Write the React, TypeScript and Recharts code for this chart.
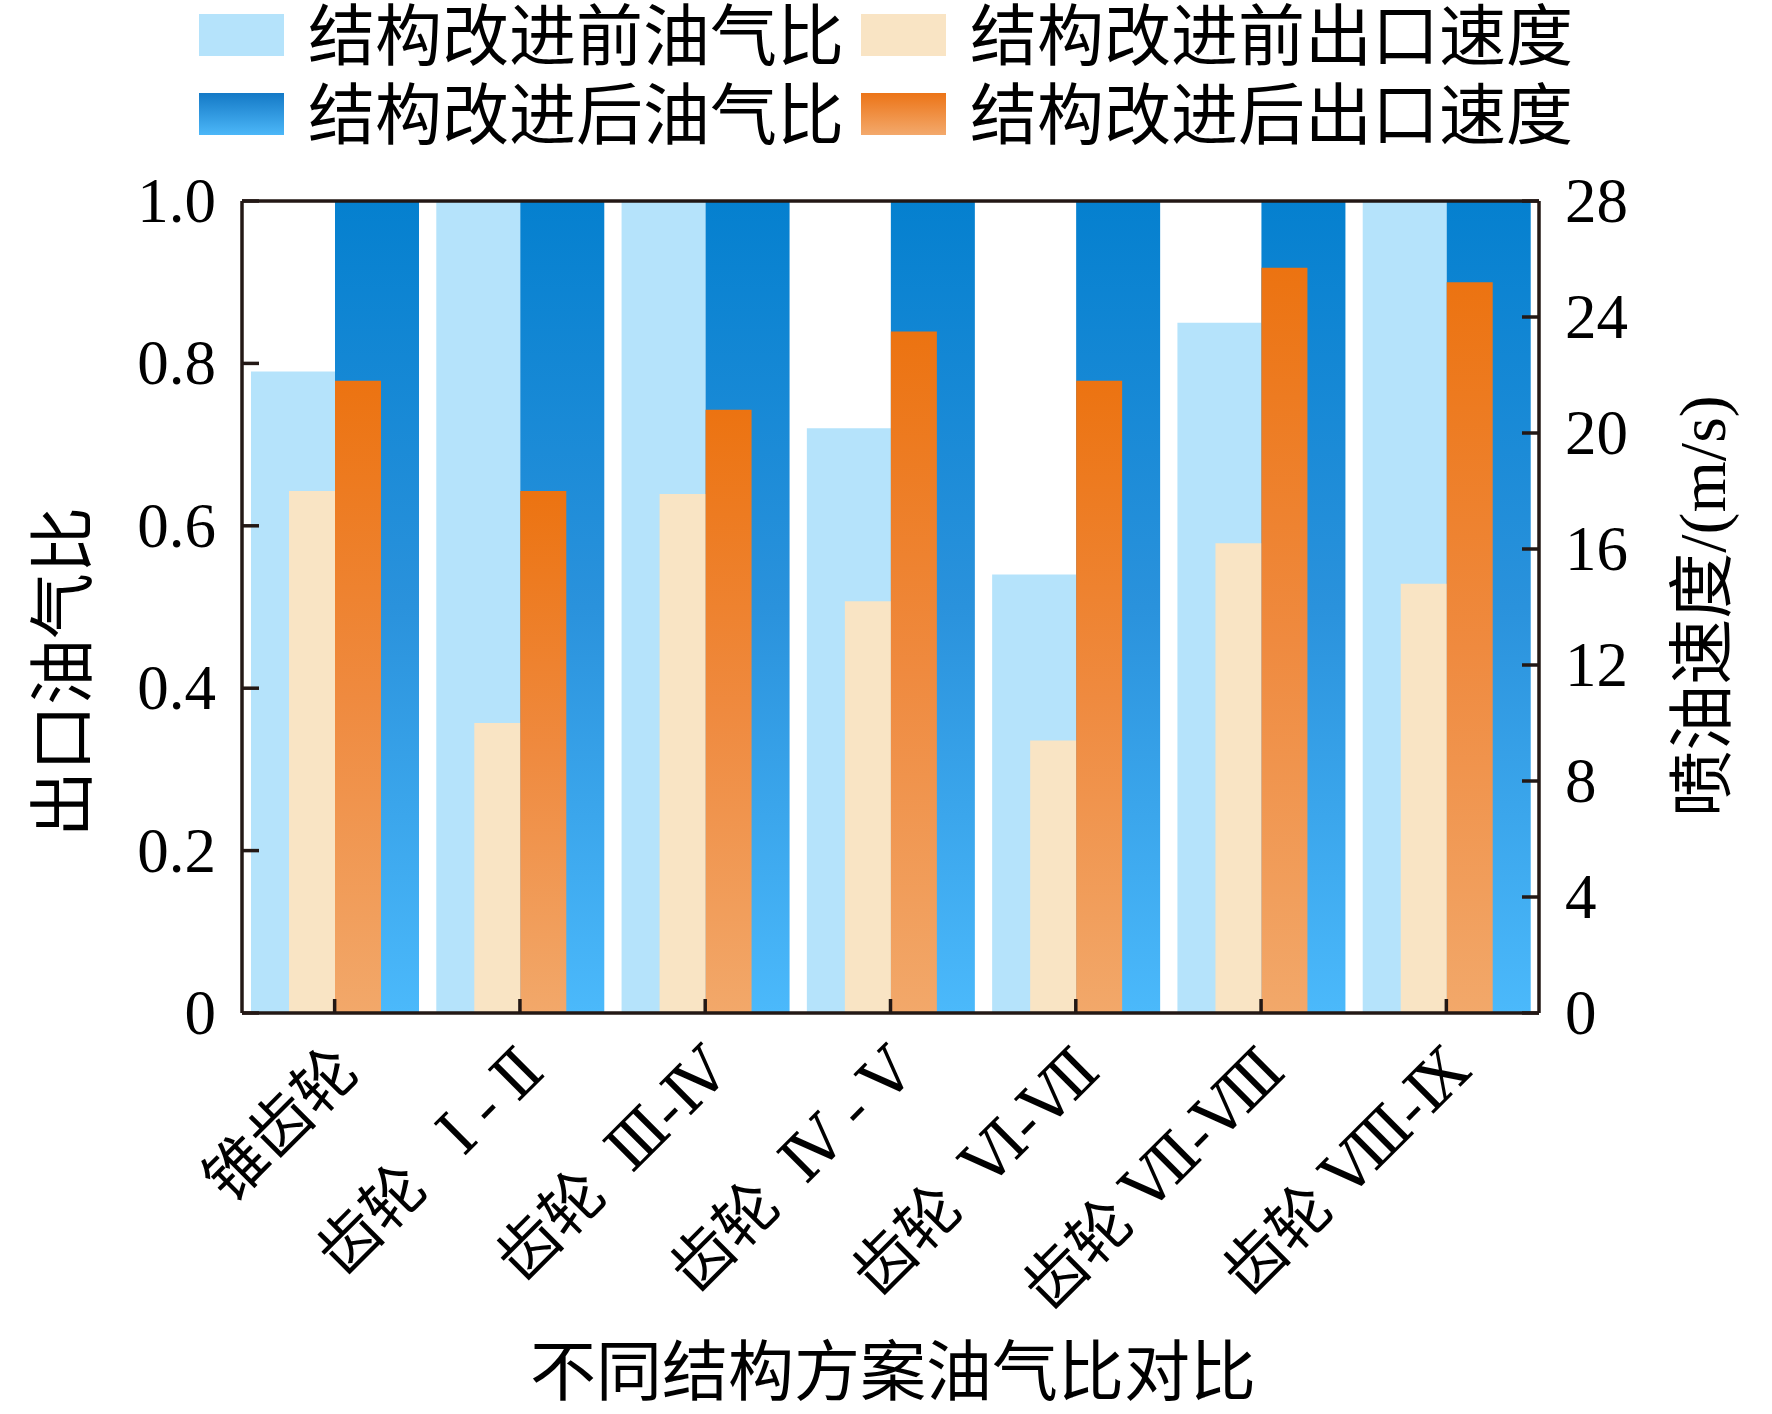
import React from 'react';
import { BarChart, Bar, XAxis, YAxis } from 'recharts';

// ---------- data ----------
const categories = ['锥齿轮', '齿轮   Ⅰ - Ⅱ', '齿轮  Ⅲ-Ⅳ', '齿轮  Ⅳ - Ⅴ', '齿轮  Ⅵ-Ⅶ', '齿轮 Ⅶ-Ⅷ', '齿轮 Ⅷ-Ⅸ'];
const ratioBefore = [0.79, 1.0, 1.0, 0.72, 0.54, 0.85, 1.0];
const ratioAfter = [1.0, 1.0, 1.0, 1.0, 1.0, 1.0, 1.0];
const speedBefore = [18.0, 10.0, 17.9, 14.2, 9.4, 16.2, 14.8];
const speedAfter = [21.8, 18.0, 20.8, 23.5, 21.8, 25.7, 25.2];
const leftTicks = [0, 0.2, 0.4, 0.6, 0.8, 1.0];
const rightTicks = [0, 4, 8, 12, 16, 20, 24, 28];
const legendLabels = ['结构改进前油气比', '结构改进前出口速度', '结构改进后油气比', '结构改进后出口速度'];
const xTitle = '不同结构方案油气比对比';
const yLeftTitle = '出口油气比';
const yRightTitle = '喷油速度/(m/s)';

const data = categories.map((name, i) => ({
  name,
  ratioBefore: ratioBefore[i],
  ratioAfter: ratioAfter[i],
  speedBefore: speedBefore[i],
  speedAfter: speedAfter[i],
}));

// ---------- styles ----------
const FONT = "'Liberation Serif', 'DejaVu Serif', 'Noto Sans CJK SC', serif";
const AXIS = '#231815';
const AXW = 3.5;
const LIGHT_BLUE = '#b5e3fb';
const BEIGE = '#f9e4c4';

const LeftTick = (props: any) => {
  const { x, y, payload } = props;
  const v = payload.value;
  const label = v === 0 ? '0' : v.toFixed(1);
  return (
    <g>
      <line x1={x} y1={y} x2={x + 17} y2={y} stroke={AXIS} strokeWidth={AXW} />
      <text x={x - 26} y={y} textAnchor="end" dominantBaseline="central" fontSize={63} fontFamily={FONT} fill="#000">
        {label}
      </text>
    </g>
  );
};

const RightTick = (props: any) => {
  const { x, y, payload } = props;
  return (
    <g>
      <line x1={x} y1={y} x2={x - 17} y2={y} stroke={AXIS} strokeWidth={AXW} />
      <text x={x + 26} y={y} textAnchor="start" dominantBaseline="central" fontSize={63} fontFamily={FONT} fill="#000">
        {String(payload.value)}
      </text>
    </g>
  );
};

const BottomTick = (props: any) => {
  const { x, y, payload } = props;
  return (
    <g>
      <line x1={x} y1={y} x2={x} y2={y - 14} stroke={AXIS} strokeWidth={AXW} />
      <text
        transform={`translate(${x + 27},${y + 61}) rotate(-45)`}
        textAnchor="end"
        fontSize={62}
        fontFamily={FONT}
        fill="#000"
        style={{ whiteSpace: 'pre' }}
      >
        {payload.value}
      </text>
    </g>
  );
};

const Overlay = () => (
  <g>
    {/* legend */}
    <rect x={199} y={14} width={85} height={42} fill={LIGHT_BLUE} />
    <rect x={199} y={93} width={85} height={42} fill="url(#legBlue)" />
    <rect x={861} y={14} width={85} height={42} fill={BEIGE} />
    <rect x={861} y={93} width={85} height={42} fill="url(#legOrange)" />
    <text x={308} y={37} dominantBaseline="central" fontSize={67} fontFamily={FONT} fill="#000">{legendLabels[0]}</text>
    <text x={970} y={37} dominantBaseline="central" fontSize={67} fontFamily={FONT} fill="#000">{legendLabels[1]}</text>
    <text x={308} y={116} dominantBaseline="central" fontSize={67} fontFamily={FONT} fill="#000">{legendLabels[2]}</text>
    <text x={970} y={116} dominantBaseline="central" fontSize={67} fontFamily={FONT} fill="#000">{legendLabels[3]}</text>
    {/* axis titles */}
    <text x={893} y={1372} textAnchor="middle" dominantBaseline="central" fontSize={66} fontFamily={FONT} fill="#000">{xTitle}</text>
    <text transform="translate(63,672) rotate(-90)" textAnchor="middle" dominantBaseline="central" fontSize={66} fontFamily={FONT} fill="#000">{yLeftTitle}</text>
    <text transform="translate(1702,606) rotate(-90)" textAnchor="middle" dominantBaseline="central" fontSize={66} fontFamily={FONT} fill="#000">{yRightTitle}</text>
  </g>
);

export default function App() {
  return (
    <div style={{ position: 'absolute', left: 0, top: 0, width: 1772, height: 1414, background: '#fff' }}>
      <BarChart
        width={1772}
        height={1414}
        data={data}
        margin={{ top: 200, right: 173, bottom: 400, left: 182 }}
        barGap={0}
        barCategoryGap={0}
      >
        <defs>
          <linearGradient id="gBlue" x1="0" y1="0" x2="0" y2="1">
            <stop offset="0%" stopColor="#0580cf" />
            <stop offset="50%" stopColor="#2a92dc" />
            <stop offset="100%" stopColor="#4bb9fb" />
          </linearGradient>
          <linearGradient id="gOrange" x1="0" y1="0" x2="0" y2="1">
            <stop offset="0%" stopColor="#ec7311" />
            <stop offset="50%" stopColor="#ef8a3f" />
            <stop offset="100%" stopColor="#f2a86a" />
          </linearGradient>
          <linearGradient id="legBlue" x1="0" y1="0" x2="0" y2="1">
            <stop offset="0%" stopColor="#1479c6" />
            <stop offset="100%" stopColor="#4cb7f8" />
          </linearGradient>
          <linearGradient id="legOrange" x1="0" y1="0" x2="0" y2="1">
            <stop offset="0%" stopColor="#ec7417" />
            <stop offset="100%" stopColor="#f3a96c" />
          </linearGradient>
        </defs>

        <Bar xAxisId="a" yAxisId="left" dataKey="ratioBefore" fill={LIGHT_BLUE} barSize={84} isAnimationActive={false} />
        <Bar xAxisId="a" yAxisId="left" dataKey="ratioAfter" fill="url(#gBlue)" barSize={84} isAnimationActive={false} />
        <Bar xAxisId="b" yAxisId="right" dataKey="speedBefore" fill={BEIGE} barSize={46} isAnimationActive={false} />
        <Bar xAxisId="b" yAxisId="right" dataKey="speedAfter" fill="url(#gOrange)" barSize={46} isAnimationActive={false} />

        <XAxis
          xAxisId="a"
          dataKey="name"
          height={1}
          interval={0}
          tickSize={0}
          tickMargin={0}
          tickLine={false}
          tick={<BottomTick />}
          axisLine={{ stroke: AXIS, strokeWidth: AXW }}
        />
        <XAxis xAxisId="b" dataKey="name" hide />
        <XAxis
          xAxisId="top"
          dataKey="name"
          orientation="top"
          height={1}
          tick={false}
          tickLine={false}
          axisLine={{ stroke: AXIS, strokeWidth: AXW }}
        />
        <YAxis
          yAxisId="left"
          orientation="left"
          width={60}
          domain={[0, 1]}
          ticks={leftTicks}
          interval={0}
          tickSize={0}
          tickMargin={0}
          tickLine={false}
          tick={<LeftTick />}
          axisLine={{ stroke: AXIS, strokeWidth: AXW }}
          allowDataOverflow
        />
        <YAxis
          yAxisId="right"
          orientation="right"
          width={60}
          domain={[0, 28]}
          ticks={rightTicks}
          interval={0}
          tickSize={0}
          tickMargin={0}
          tickLine={false}
          tick={<RightTick />}
          axisLine={{ stroke: AXIS, strokeWidth: AXW }}
          allowDataOverflow
        />
        <Overlay />
      </BarChart>
    </div>
  );
}
